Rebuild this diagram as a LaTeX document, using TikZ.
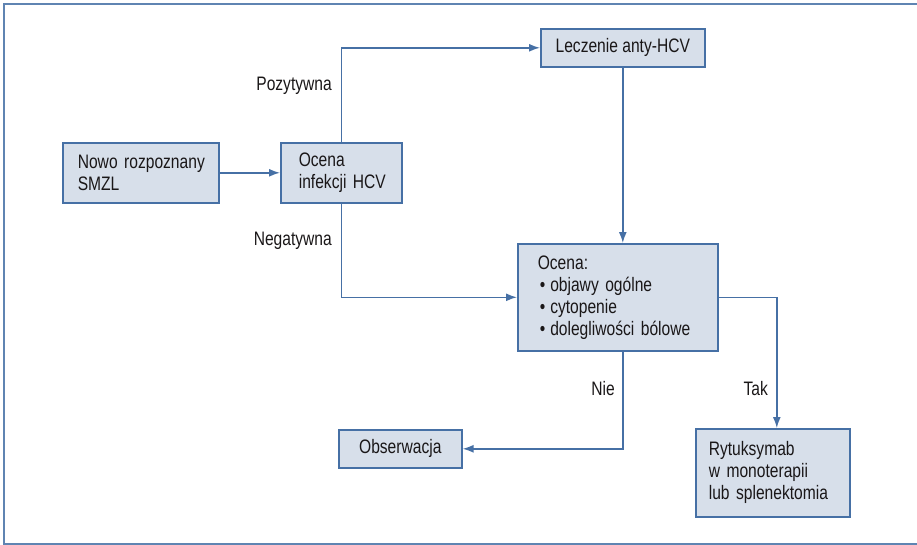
\documentclass[tikz,border=0pt]{standalone}
\usepackage{fontspec}
\setmainfont[FakeStretch=0.8]{Liberation Sans}
\usetikzlibrary{arrows.meta}
\definecolor{edgeblue}{HTML}{4670A5}
\definecolor{fillblue}{HTML}{D7DFEA}
\definecolor{frameblue}{HTML}{5F84B2}
\definecolor{txt}{HTML}{1A1718}
\begin{document}
\begin{tikzpicture}[x=1pt,y=-1pt,
  font=\fontsize{19.5}{22}\selectfont, text=txt,
  box/.style={draw=edgeblue, fill=fillblue, line width=1.6pt, anchor=north west, inner ysep=0pt},
  lbl/.style={anchor=east, inner sep=0pt},
  arr/.style={draw=edgeblue, line width=1.5pt, -{Latex[length=11pt,width=8pt]}}]
\useasboundingbox (0,0) rectangle (917,545);
\draw[frameblue, line width=1.4pt] (920,4) -- (4,4) -- (4,544) -- (920,544);
\node[box, minimum width=156pt, minimum height=60pt, text width=126pt, inner xsep=15pt, align=left] (A) at (62,142) {\mbox{Nowo rozpoznany}\\SMZL};
\node[box, minimum width=121pt, minimum height=60pt, text width=85pt, inner xsep=18pt, align=left] (B) at (280,142) {Ocena\\\mbox{infekcji HCV}};
\node[box, minimum width=164pt, minimum height=38pt, inner xsep=0pt, align=center] (L) at (540,28) {Leczenie anty-HCV};
\node[box, minimum width=200pt, minimum height=107pt, text width=160pt, inner xsep=20pt, align=left] (O) at (517,243) {Ocena:\\\mbox{\hspace{2pt}•\hspace{5pt}objawy ogólne}\\\mbox{\hspace{2pt}•\hspace{5pt}cytopenie}\\\mbox{\hspace{2pt}•\hspace{5pt}dolegliwości bólowe}};
\node[box, minimum width=123pt, minimum height=38pt, inner xsep=0pt, align=center] (S) at (338,429) {Obserwacja};
\node[box, minimum width=154pt, minimum height=88pt, text width=128pt, inner xsep=13pt, align=left] (R) at (695,428) {Rytuksymab\\\mbox{w monoterapii}\\\mbox{lub splenektomia}};
\draw[arr] (A) -- (B);
\draw[arr] (B.north) |- (L.west);
\draw[arr] (L.south) -- (L.south |- O.north);
\draw[arr] (B.south) |- (O.west);
\draw[arr] (O.east) -| ([xshift=4pt]R.north);
\draw[arr] ([xshift=5pt]O.south) |- (S.east);
\node[lbl] (pos) at (332,86) {Pozytywna};
\node[lbl] (neg) at (332,241) {Negatywna};
\node[lbl] (nie) at (615,389) {Nie};
\node[lbl] (tak) at (768,389) {Tak};
\end{tikzpicture}
\end{document}
